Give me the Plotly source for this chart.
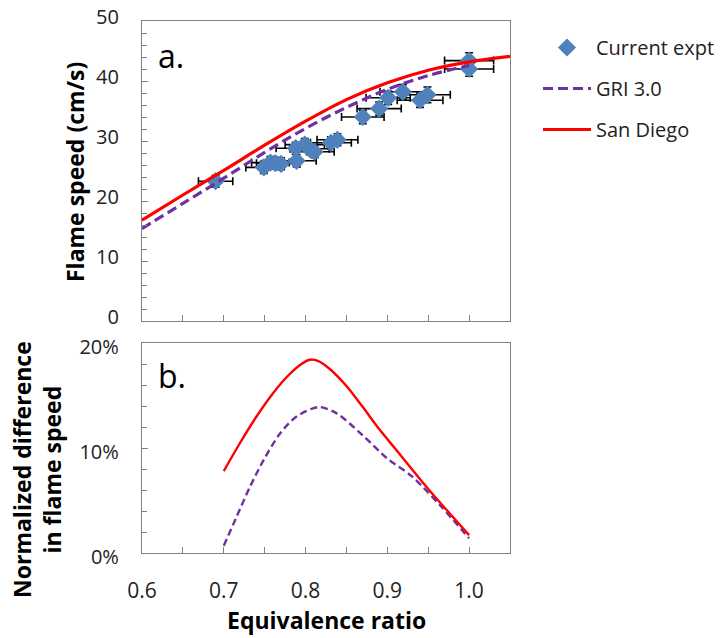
import plotly.graph_objects as go

# Experimental data (panel a)
phi_expt = [0.690, 0.749, 0.757, 0.763, 0.770, 0.789, 0.788, 0.799, 0.805, 0.811,
            0.831, 0.839, 0.870, 0.890, 0.901, 0.919, 0.940, 0.949, 1.000, 1.000]
su_expt = [23.3, 25.6, 26.4, 26.3, 26.2, 26.7, 28.8, 29.4, 28.7, 28.2,
           29.7, 30.2, 34.0, 35.4, 37.2, 38.2, 36.8, 37.7, 43.4, 42.0]
phi_err = [0.021, 0.022, 0.023, 0.023, 0.023, 0.024, 0.024, 0.024, 0.024, 0.024,
           0.025, 0.025, 0.026, 0.027, 0.027, 0.028, 0.028, 0.028, 0.030, 0.030]
su_err = [1.0, 1.0, 1.0, 1.0, 1.0, 1.0, 1.0, 1.0, 1.0, 1.0,
          1.0, 1.0, 1.1, 1.1, 1.1, 1.2, 1.2, 1.3, 1.3, 1.2]

# Model curves (panel a)
phi_sd = [0.60, 0.65, 0.70, 0.75, 0.80, 0.85, 0.90, 0.95, 1.00, 1.05]
su_sd = [16.8, 21.0, 25.1, 29.3, 33.3, 36.9, 39.7, 41.8, 43.2, 44.1]
phi_gri = [0.60, 0.65, 0.70, 0.75, 0.80, 0.85, 0.90, 0.95, 1.00]
su_gri = [15.4, 19.6, 23.8, 28.1, 32.1, 35.6, 38.6, 40.9, 42.6]

# Normalized difference (panel b)
phi_diff_sd = [0.700, 0.720, 0.740, 0.760, 0.780, 0.795, 0.805, 0.815, 0.830, 0.850,
               0.870, 0.890, 0.910, 0.950, 1.000]
diff_sd = [0.078, 0.105, 0.130, 0.152, 0.170, 0.180, 0.184, 0.183, 0.175, 0.159,
           0.139, 0.118, 0.099, 0.061, 0.017]
phi_diff_gri = [0.700, 0.716, 0.732, 0.749, 0.769, 0.789, 0.816, 0.838, 0.870, 0.900,
                0.930, 0.965, 1.000]
diff_gri = [0.007, 0.035, 0.063, 0.089, 0.114, 0.130, 0.139, 0.133, 0.112, 0.090,
            0.073, 0.045, 0.014]

RED = "#FF0000"
PURPLE = "#7030A0"
BLUE = "#4F81BD"
FONT = "Open Sans"
TXT = "#222222"

fig = go.Figure()

fig.add_trace(go.Scatter(
    x=phi_expt, y=su_expt, mode="markers", name="Current expt",
    marker=dict(symbol="diamond", size=14, color=BLUE),
    error_x=dict(type="data", array=phi_err, color="black", thickness=1.6, width=4),
    error_y=dict(type="data", array=su_err, color="black", thickness=1.6, width=4),
    xaxis="x", yaxis="y", legendgroup="a"))
fig.add_trace(go.Scatter(
    x=phi_gri, y=su_gri, mode="lines", name="GRI 3.0",
    line=dict(color=PURPLE, width=3.2, dash="10px,5px", shape="spline", smoothing=1.0),
    xaxis="x", yaxis="y", legendgroup="b"))
fig.add_trace(go.Scatter(
    x=phi_sd, y=su_sd, mode="lines", name="San Diego",
    line=dict(color=RED, width=3.2, shape="spline", smoothing=1.0),
    xaxis="x", yaxis="y", legendgroup="c"))

fig.add_trace(go.Scatter(
    x=phi_diff_gri, y=diff_gri, mode="lines", showlegend=False,
    line=dict(color=PURPLE, width=2.4, dash="7px,4px", shape="spline", smoothing=0.8),
    xaxis="x2", yaxis="y2"))
fig.add_trace(go.Scatter(
    x=phi_diff_sd, y=diff_sd, mode="lines", showlegend=False,
    line=dict(color=RED, width=2.4, shape="spline", smoothing=0.8),
    xaxis="x2", yaxis="y2"))

axis_common = dict(showline=True, linecolor="#808080", linewidth=1.3, mirror=True,
                   ticks="inside", tickcolor="#808080", ticklen=6, showgrid=False,
                   zeroline=False, automargin=False)

x_dom = [142 / 722, 510 / 722]
fig.update_layout(
    width=722, height=638,
    margin=dict(l=0, r=0, t=0, b=0),
    paper_bgcolor="white", plot_bgcolor="white",
    xaxis=dict(domain=x_dom, range=[0.6, 1.05], dtick=0.1, tick0=0.6,
               showticklabels=False, anchor="y",
               minor=dict(dtick=0.05, ticks="inside", ticklen=6, tickcolor="#808080"),
               **axis_common),
    yaxis=dict(domain=[(638 - 321) / 638, (638 - 21) / 638], range=[0, 50], dtick=10,
               anchor="x", ticklabelstandoff=18, ticklabelshift=-4,
               tickfont=dict(family=FONT, size=20, color=TXT),
               minor=dict(dtick=2, ticks="inside", ticklen=5, tickcolor="#808080"),
               **axis_common),
    xaxis2=dict(domain=x_dom, range=[0.6, 1.05], dtick=0.1, tick0=0.6, tickformat=".1f",
                anchor="y2", ticklabelstandoff=19,
                tickfont=dict(family=FONT, size=21, color=TXT),
                minor=dict(dtick=0.05, ticks="inside", ticklen=6, tickcolor="#808080"),
                **axis_common),
    yaxis2=dict(domain=[(638 - 553) / 638, (638 - 343) / 638], range=[0, 0.2], dtick=0.1,
                tickformat=".0%", anchor="x2", ticklabelstandoff=18, ticklabelshift=4,
                tickfont=dict(family=FONT, size=20, color=TXT),
                minor=dict(dtick=0.02, ticks="inside", ticklen=5, tickcolor="#808080"),
                **axis_common),
    legend=dict(x=538 / 722, y=1 - 28 / 638, xanchor="left", yanchor="top",
                font=dict(family=FONT, size=20, color=TXT),
                bgcolor="rgba(0,0,0,0)", tracegroupgap=12, traceorder="grouped",
                itemwidth=48),
    showlegend=True,
)

fig.add_annotation(text="a.", x=156 / 722, y=1 - 55 / 638, xref="paper", yref="paper",
                   xanchor="left", yanchor="middle", showarrow=False,
                   font=dict(family=FONT, size=32, color="black"))
fig.add_annotation(text="b.", x=156 / 722, y=1 - 375 / 638, xref="paper", yref="paper",
                   xanchor="left", yanchor="middle", showarrow=False,
                   font=dict(family=FONT, size=32, color="black"))
fig.add_annotation(text="<b>Flame speed (cm/s)</b>", x=75 / 722, y=1 - 172 / 638,
                   xref="paper", yref="paper", textangle=-90, showarrow=False,
                   xanchor="center", yanchor="middle",
                   font=dict(family=FONT, size=23, color="black"))
fig.add_annotation(text="<b>Normalized difference<br>in flame speed</b>", x=37 / 722,
                   y=1 - 470 / 638, xref="paper", yref="paper", textangle=-90,
                   showarrow=False, xanchor="center", yanchor="middle",
                   font=dict(family=FONT, size=23, color="black"))
fig.add_annotation(text="<b>Equivalence ratio</b>", x=326 / 722, y=1 - 620 / 638,
                   xref="paper", yref="paper", showarrow=False,
                   xanchor="center", yanchor="middle",
                   font=dict(family=FONT, size=23, color="black"))

fig.write_html("out.html")
